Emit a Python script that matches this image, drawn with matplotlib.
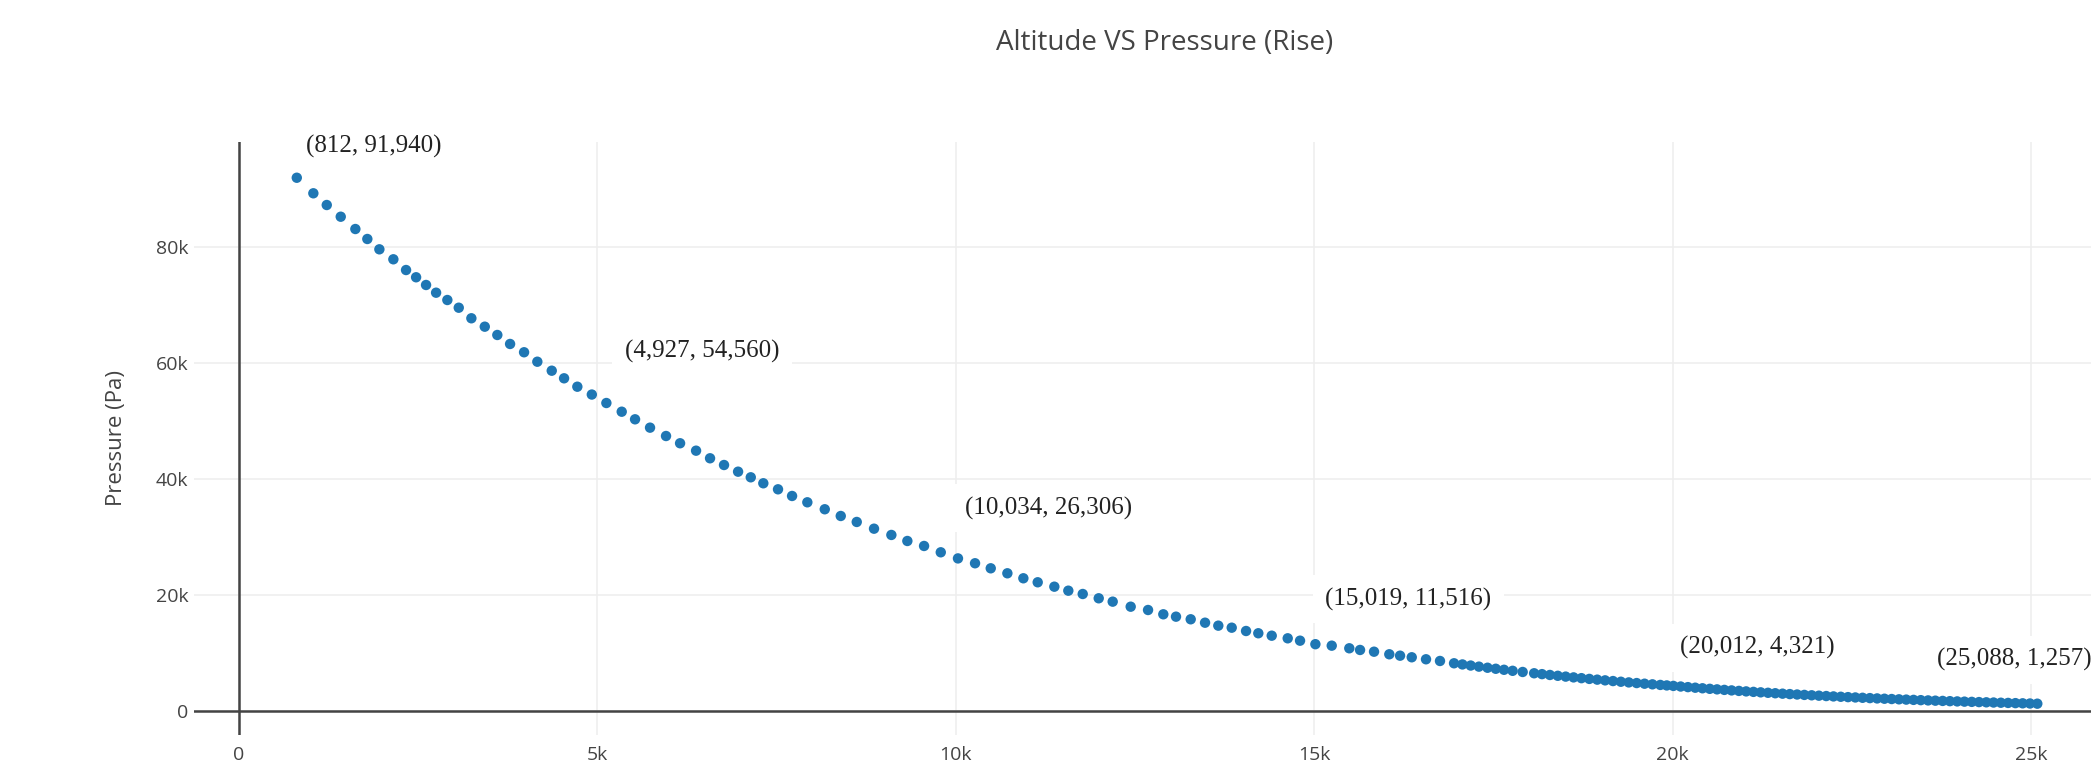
import matplotlib
matplotlib.use("Agg")
from matplotlib import pyplot as plt
from matplotlib.ticker import FuncFormatter

# altitude (m) and pressure (Pa)
altitude = [812, 1043, 1230, 1425, 1629, 1796, 1964, 2159, 2336, 2476,
            2615, 2755, 2912, 3071, 3247, 3434, 3609, 3787, 3982, 4167,
            4368, 4540, 4725, 4927, 5130, 5344, 5530, 5739, 5962, 6158,
            6381, 6576, 6771, 6967, 7144, 7319, 7524, 7720, 7933, 8176,
            8399, 8622, 8863, 9105, 9328, 9561, 9794, 10034, 10272, 10491,
            10723, 10946, 11146, 11378, 11573, 11774, 11997, 12192, 12443, 12685,
            12898, 13075, 13280, 13480, 13665, 13852, 14052, 14223, 14410, 14633,
            14805, 15019, 15247, 15492, 15642, 15837, 16050, 16200, 16363, 16562,
            16757, 16953, 17070, 17185, 17300, 17420, 17535, 17650, 17770, 17910,
            18070, 18180, 18290, 18400, 18510, 18620, 18730, 18840, 18950, 19060,
            19170, 19280, 19390, 19500, 19610, 19720, 19830, 19920, 20012, 20114,
            20215, 20317, 20418, 20520, 20621, 20723, 20824, 20926, 21027, 21129,
            21230, 21332, 21433, 21535, 21636, 21738, 21839, 21941, 22042, 22144,
            22245, 22347, 22448, 22550, 22651, 22753, 22854, 22956, 23057, 23159,
            23260, 23362, 23463, 23565, 23666, 23768, 23869, 23971, 24072, 24174,
            24275, 24377, 24478, 24580, 24681, 24783, 24884, 24986, 25088]
pressure = [91940, 89260, 87240, 85220, 83100, 81380, 79600, 77880, 76030, 74780,
            73450, 72120, 70860, 69530, 67710, 66260, 64830, 63280, 61850, 60220,
            58670, 57360, 55910, 54560, 53100, 51600, 50290, 48850, 47410, 46160,
            44880, 43570, 42410, 41260, 40290, 39260, 38220, 37070, 35980, 34780,
            33620, 32590, 31430, 30350, 29310, 28450, 27360, 26306, 25470, 24600,
            23740, 22880, 22190, 21430, 20740, 20170, 19430, 18850, 17980, 17410,
            16670, 16260, 15810, 15220, 14710, 14360, 13790, 13400, 12980, 12530,
            12120, 11516, 11260, 10810, 10520, 10220, 9776, 9534, 9259, 8914,
            8621, 8224, 8024, 7833, 7645, 7454, 7277, 7102, 6925, 6724,
            6502, 6353, 6208, 6065, 5926, 5791, 5658, 5529, 5402, 5279,
            5159, 5041, 4925, 4813, 4703, 4595, 4490, 4406, 4321, 4216,
            4113, 4012, 3915, 3819, 3726, 3635, 3546, 3460, 3376, 3293,
            3213, 3135, 3058, 2983, 2911, 2840, 2770, 2703, 2637, 2573,
            2510, 2449, 2389, 2331, 2274, 2218, 2164, 2111, 2060, 2010,
            1961, 1913, 1866, 1821, 1776, 1733, 1691, 1649, 1609, 1570,
            1532, 1494, 1458, 1422, 1388, 1354, 1321, 1289, 1257]

# labelled points and where their labels sit (offset in pixels)
label_x = [812, 4927, 10034, 15019, 20012, 25088]
label_y = [91940, 54560, 26306, 11516, 4321, 1257]
label_dx = [77, 110, 91, 93, 84, -100]
label_dy = [31, 43, 50, 45, 38, 44]
label_ha = ['center', 'center', 'center', 'center', 'center', 'left']

xticks = [0, 5000, 10000, 15000, 20000, 25000]
yticks = [0, 20000, 40000, 60000, 80000]

grey = '#444444'

fig = plt.figure(figsize=(20.91, 7.61), dpi=100)
ax = fig.add_axes([0.0928, 0.0342, 0.9072, 0.7792])

ax.scatter(altitude, pressure, s=56, color='#1f77b4', edgecolors='none', zorder=5)

ax.set_xlim(-621, 25837)
ax.set_ylim(-4138, 98103)
ax.set_xticks(xticks)
ax.set_yticks(yticks)
kfmt = FuncFormatter(lambda v, p: "0" if v == 0 else "%dk" % (v / 1000))
ax.xaxis.set_major_formatter(kfmt)
ax.yaxis.set_major_formatter(kfmt)
ax.tick_params(length=0, labelsize=14, labelcolor=grey)
ax.tick_params(axis='y', pad=4)
ax.tick_params(axis='x', pad=8)
for lab in ax.get_xticklabels() + ax.get_yticklabels():
    lab.set_fontfamily('Open Sans')

ax.grid(True, color='#eeeeee', lw=1.1, zorder=0)
ax.set_axisbelow(True)
for s in ax.spines.values():
    s.set_visible(False)
ax.axhline(0, color=grey, lw=1.8, zorder=2)
ax.axvline(0, color=grey, lw=1.8, zorder=2)

for i in range(len(label_x)):
    txt = "(%s, %s)" % (format(label_x[i], ','), format(label_y[i], ','))
    ax.annotate(txt, xy=(label_x[i], label_y[i]), xytext=(label_dx[i], label_dy[i]),
                textcoords='offset pixels', ha=label_ha[i], va='center',
                fontsize=18, family='Liberation Serif', color='#222222',
                bbox=dict(boxstyle='square,pad=0.5', fc='white', ec='none'),
                zorder=4, annotation_clip=False)

fig.text(0.557, 0.9435, "Altitude VS Pressure (Rise)", ha='center', va='center',
         fontsize=20, family='Open Sans', color=grey)
fig.text(0.0555, 0.4238, "Pressure (Pa)", rotation=90, ha='center', va='center',
         fontsize=16, family='Open Sans', color=grey)

fig.savefig('out.png', dpi=100)
